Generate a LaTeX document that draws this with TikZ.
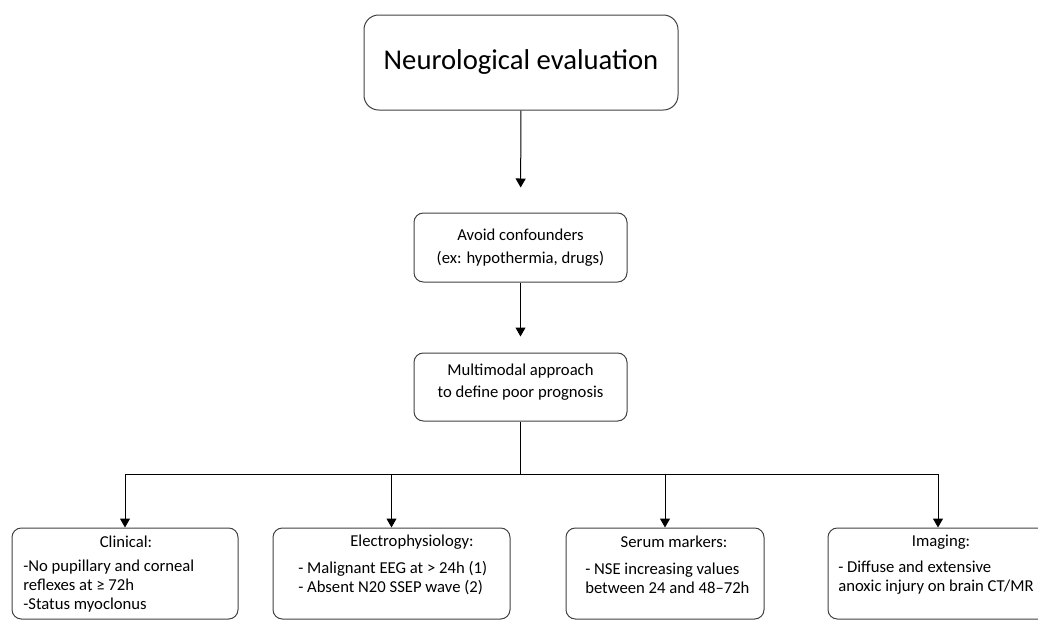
\documentclass[tikz,border=0pt]{standalone}
\usepackage{fontspec}
\setmainfont{Carlito}
\usetikzlibrary{arrows.meta,positioning}
\begin{document}
\begin{tikzpicture}[x=0.75pt,y=-0.75pt,
  box/.style={draw=black!75,line width=0.75pt,rounded corners=7pt,align=center,inner sep=0pt},
  arr/.style={draw=black,line width=0.75pt,-{Triangle[width=7.5pt,length=6.75pt]}},
  link/.style={draw=black,line width=0.75pt},
  txt/.style={inner sep=0pt,font=\fontsize{12.5}{14.25}\selectfont}]
\useasboundingbox (0,0) rectangle (1038,621);
\clip (0,0) rectangle (1038,621);

% top box
\node[box,rounded corners=11pt,minimum width=235.5pt,minimum height=71.25pt,
  font=\fontsize{21.5}{25}\selectfont] (eval) at (521,62.5) {Neurological evaluation};

% middle boxes
\node[box,minimum width=159.75pt,minimum height=51.75pt,
  font=\fontsize{12.5}{17}\selectfont] (conf) at (520.5,247.5) {Avoid confounders\\(ex: hypothermia, drugs)};
\node[box,minimum width=159.75pt,minimum height=51pt,
  font=\fontsize{12.5}{16.5}\selectfont] (multi) at (520.5,387) {Multimodal approach\\to define poor prognosis\\[-7.5pt]};

\draw[arr,shorten >=18.75pt] (eval) -- (conf);
\draw[arr,shorten >=12pt] (conf) -- (multi);

% bottom boxes
\node[box,minimum width=169.5pt,minimum height=68.25pt] (clin) at (125,573.5) {};
\node[box,minimum width=177.75pt,minimum height=68.25pt] (elec) at (391.5,573.5) {};
\node[box,minimum width=148.5pt,minimum height=68.25pt] (serum) at (665,573.5) {};
\node[box,minimum width=174pt,minimum height=68.25pt] (imag) at (944,573.5) {};
\coordinate (imagin) at ([xshift=-4.5pt]imag.north);

% branching
\coordinate (hy) at (0,474);
\coordinate (split) at (multi.south |- hy);
\coordinate (left) at (clin.north |- hy);
\coordinate (right) at (imagin |- hy);
\draw[link] (multi.south) -- (split);
\draw[link] (left) -- (right);
\foreach \b in {clin.north,elec.north,serum.north,imagin}
  \draw[arr] (\b |- hy) -- (\b);

% box texts
\node[txt] (clinh) at (126,542) {Clinical:};
\node[txt,anchor=west,align=left] (clinb) at (23,586) {-No pupillary and corneal\\reflexes at ≥ 72h\\-Status myoclonus};
\node[txt] (elech) at (412,542) {Electrophysiology:};
\node[txt,anchor=west,align=left] (elecb) at (298,578) {- Malignant EEG at > 24h (1)\\- Absent N20 SSEP wave (2)};
\node[txt] (serumh) at (674,542) {Serum markers:};
\node[txt,anchor=west,align=left] (serumb) at (585,578) {- NSE increasing values\\between 24 and 48–72h};
\node[txt] (imagh) at (941,542) {Imaging:};
\node[txt,anchor=west,align=left] (imagb) at (838,578) {- Diffuse and extensive\\anoxic injury on brain CT/MR};
\end{tikzpicture}
\end{document}
